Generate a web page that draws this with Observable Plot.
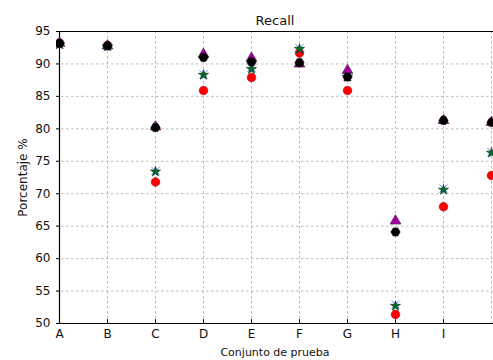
<!DOCTYPE html>
<html>
<head>
<meta charset="utf-8">
<script src="https://cdn.jsdelivr.net/npm/d3@7"></script>
<script src="https://cdn.jsdelivr.net/npm/@observablehq/plot@0.6"></script>
<style>
  html, body { margin: 0; padding: 0; background: white; overflow: hidden; }
  svg { font-family: "DejaVu Sans", sans-serif; }
</style>
</head>
<body>
<div id="chart"></div>
<script>
const categories = ["A","B","C","D","E","F","G","H","I","J"];
const xTickLabels = ["A","B","C","D","E","F","G","H","I"];
const yTicks = [50,55,60,65,70,75,80,85,90,95];
const redCircle   = [93.2, 92.8, 71.8, 85.9, 87.9, 91.7, 85.9, 51.4, 68.0, 72.8];
const purpleTri   = [93.2, 92.8, 80.3, 91.5, 90.9, 90.0, 89.0, 65.8, 81.3, 81.0];
const blueX       = [93.0, 92.7, 73.5, 88.4, 89.4, 92.4, 88.0, 52.9, 70.8, 76.4];
const greenStar   = [93.0, 92.7, 73.4, 88.3, 89.2, 92.3, 88.0, 52.7, 70.6, 76.3];
const blackHex    = [93.2, 92.8, 80.2, 91.0, 90.3, 90.2, 88.0, 64.1, 81.3, 81.0];

const hexagon = {
  draw(context, size) {
    const r = Math.sqrt(size / (1.5 * Math.sqrt(3)));
    for (let i = 0; i < 6; i++) {
      const a = Math.PI / 6 + i * Math.PI / 3;
      const x = r * Math.sin(a), y = -r * Math.cos(a);
      if (i === 0) context.moveTo(x, y); else context.lineTo(x, y);
    }
    context.closePath();
  }
};

const toRows = (vals) => categories.map((c, i) => ({cat: c, v: vals[i]}));

const dotOpts = (symbol, fill, stroke, r, extra = {}) => ({
  x: "cat", y: "v", symbol, fill, stroke, r, strokeWidth: 0.6, clip: true, ...extra
});

const chart = Plot.plot({
  width: 493,
  height: 360,
  marginTop: 31,
  marginBottom: 37,
  marginLeft: 56,
  marginRight: 0,
  style: {fontFamily: "DejaVu Sans, sans-serif", fontSize: "11px", color: "#111", background: "white"},
  x: {type: "point", domain: categories, padding: 0},
  y: {domain: [50, 95]},
  marks: [
    Plot.gridY(yTicks, {stroke: "#aaa", strokeOpacity: 0.8, strokeDasharray: "2.5,2.5"}),
    Plot.gridX(categories, {stroke: "#aaa", strokeOpacity: 0.8, strokeDasharray: "2.5,2.5"}),
    Plot.axisY(yTicks, {tickSize: -4, tickPadding: 10, fontSize: 12, label: "Porcentaje %", labelAnchor: "center", labelArrow: "none", labelOffset: 38}),
    Plot.axisX(xTickLabels, {tickSize: -4, tickPadding: 10, fontSize: 12, label: null}),
    Plot.text(["Conjunto de prueba"], {frameAnchor: "bottom", dy: 25, lineAnchor: "top", fontSize: 11, fill: "#111"}),
    Plot.ruleY([50, 95], {stroke: "black", strokeWidth: 1.2}),
    Plot.ruleX(["A"], {stroke: "black", strokeWidth: 1.2}),
    Plot.dot(toRows(redCircle), dotOpts("circle", "#ff0000", "#aa0000", 4.3)),
    Plot.dot(toRows(purpleTri), dotOpts("triangle", "#a000a0", "#500050", 4.0)),
    Plot.dot(toRows(blueX), dotOpts("times", "none", "#5577ff", 3.8, {strokeWidth: 0.9})),
    Plot.dot(toRows(greenStar), dotOpts("star", "#006a2a", "#003010", 3.2)),
    Plot.dot(toRows(blackHex), dotOpts(hexagon, "#000000", "#000000", 4.2)),
    Plot.text(["Recall"], {frameAnchor: "top", dy: -7, lineAnchor: "bottom", fontSize: 13, fill: "#111"})
  ]
});
document.getElementById("chart").appendChild(chart);
</script>
</body>
</html>
